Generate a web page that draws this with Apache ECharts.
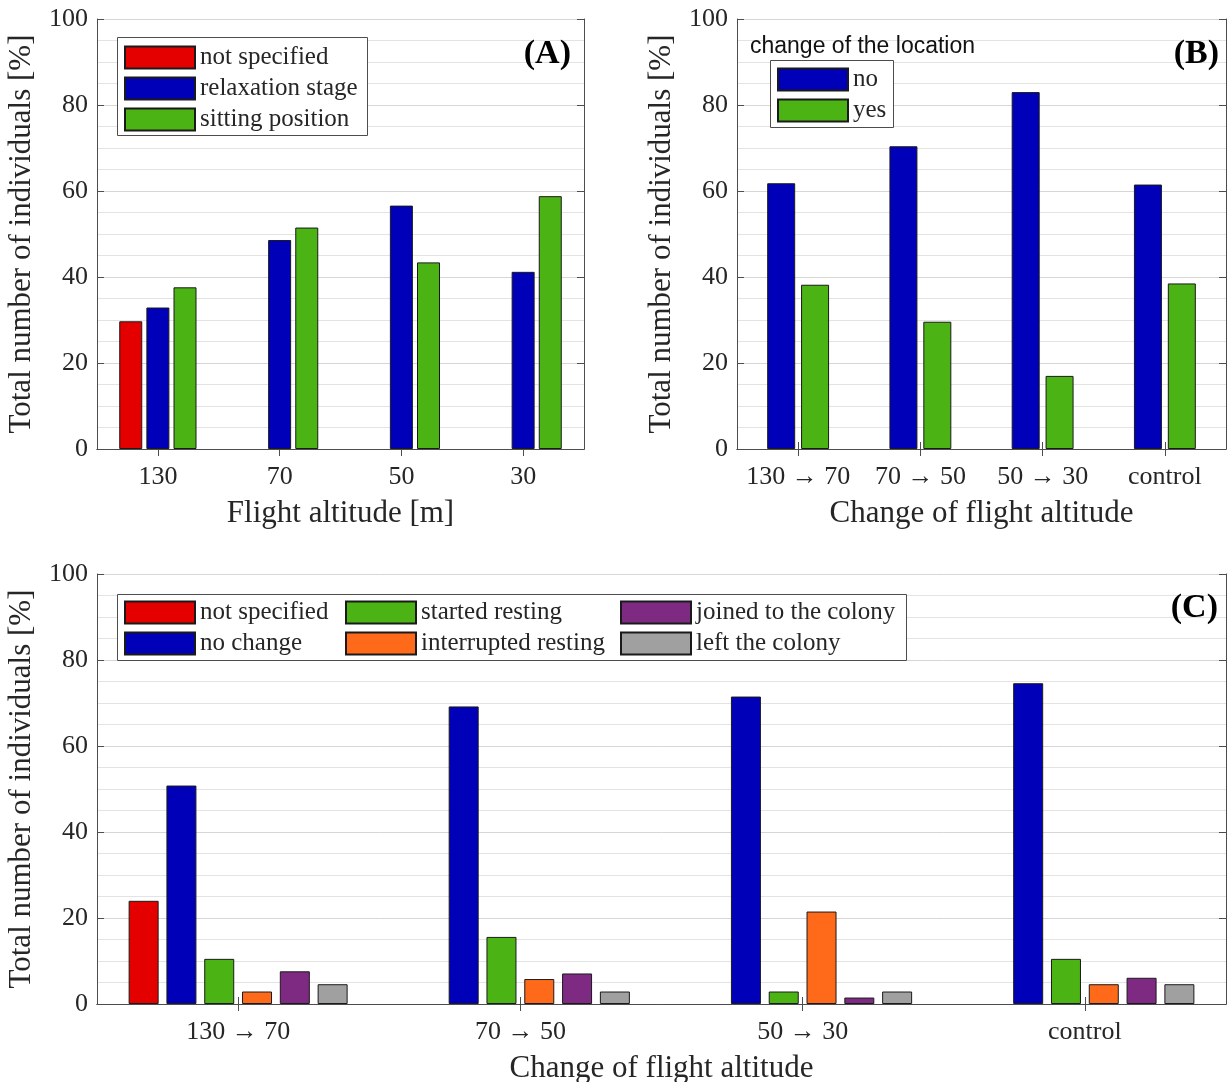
<!DOCTYPE html>
<html>
<head>
<meta charset="utf-8">
<script src="https://cdn.jsdelivr.net/npm/echarts@6/dist/echarts.min.js"></script>
<style>
  html, body { margin: 0; padding: 0; background: #fff; }
  #chart { width: 1231px; height: 1082px; }
</style>
</head>
<body>
<div id="chart"></div>
<script>
// Panel A: behaviour by flight altitude
const altitudes = ['130', '70', '50', '30'];
const notSpecifiedA = [29.7, null, null, null];
const relaxationA = [32.9, 48.6, 56.6, 41.2];
const sittingA = [37.6, 51.5, 43.4, 58.8];

// Panel B: change of the location
const altitudeChanges = ['130 \u2192 70', '70 \u2192 50', '50 \u2192 30', 'control'];
const locationNo = [61.8, 70.4, 83.0, 61.5];
const locationYes = [38.2, 29.6, 17.0, 38.5];

// Panel C: change of behaviour
const notSpecifiedC = [24.0, null, null, null];
const noChangeC = [50.8, 69.2, 71.5, 74.6];
const startedRestingC = [10.5, 15.6, 2.9, 10.5];
const interruptedRestingC = [2.9, 5.8, 21.5, 4.6];
const joinedColonyC = [7.6, 7.1, 1.5, 6.1];
const leftColonyC = [4.6, 2.9, 2.9, 4.6];

const yTicks = [0, 20, 40, 60, 80, 100];

const SERIF = 'Liberation Serif';
const TXT = '#262626';
const FRAME = '#4d4d4d';
const COLORS = {
  red: '#e50000',
  blue: '#0000b8',
  green: '#4bb414',
  orange: '#ff6a1a',
  purple: '#7e2a82',
  gray: '#a0a0a0'
};

// fixed plot rectangles; labels are allowed to sit outside them
const grids = [
  { left: 97, top: 19, width: 487, height: 430, outerBoundsMode: 'none', containLabel: false },
  { left: 737, top: 19, width: 489, height: 430, outerBoundsMode: 'none', containLabel: false },
  { left: 97, top: 574, width: 1129, height: 430, outerBoundsMode: 'none', containLabel: false }
];

function bottomAxis(gi, cats, title) {
  return {
    type: 'category', gridIndex: gi, position: 'bottom', data: cats,
    axisLine: { show: true, lineStyle: { color: FRAME, width: 1 } },
    axisTick: { show: true, inside: true, alignWithLabel: true, length: 7, lineStyle: { color: FRAME } },
    axisLabel: { color: TXT, fontFamily: SERIF, fontSize: 26, margin: 15, interval: 0, hideOverlap: false },
    name: title, nameLocation: 'middle', nameGap: 49,
    nameTextStyle: { color: TXT, fontFamily: SERIF, fontSize: 31 }
  };
}
function topAxis(gi, cats) {
  return {
    type: 'category', gridIndex: gi, position: 'top', data: cats,
    axisLine: { show: true, lineStyle: { color: FRAME, width: 1 } },
    axisTick: { show: true, inside: true, alignWithLabel: true, length: 7, lineStyle: { color: FRAME }, interval: 0 },
    axisLabel: { show: false }
  };
}
function leftAxis(gi) {
  return {
    type: 'value', gridIndex: gi, position: 'left', min: 0, max: 100, interval: 20,
    axisLine: { show: true, lineStyle: { color: FRAME, width: 1 } },
    axisTick: { show: true, inside: true, length: 7, lineStyle: { color: FRAME } },
    axisLabel: {
      color: TXT, fontFamily: SERIF, fontSize: 26, margin: 9,
      formatter: v => (yTicks.indexOf(v) >= 0 ? String(v) : '')
    },
    splitLine: { show: true, lineStyle: { color: '#d6d6d6', width: 1 } },
    minorTick: { show: false, splitNumber: 4 },
    minorSplitLine: { show: true, lineStyle: { color: '#e3e3e3', width: 1 } },
    name: 'Total number of individuals [%]', nameLocation: 'middle', nameGap: 60,
    nameTextStyle: { color: TXT, fontFamily: SERIF, fontSize: 31 }
  };
}
function rightAxis(gi) {
  return {
    type: 'value', gridIndex: gi, position: 'right', min: 0, max: 100, interval: 20,
    axisLine: { show: true, lineStyle: { color: FRAME, width: 1 } },
    axisTick: { show: true, inside: true, length: 7, lineStyle: { color: FRAME } },
    axisLabel: { show: false },
    splitLine: { show: false }
  };
}

function bar(name, data, color, gi, width, gap) {
  return {
    type: 'bar', name: name, data: data,
    xAxisIndex: gi * 2, yAxisIndex: gi * 2,
    barWidth: width, barGap: gap,
    itemStyle: { color: color, borderColor: '#1a1a1a', borderWidth: 1 },
    emphasis: { disabled: true },
    animation: false
  };
}

const legendText = { color: TXT, fontFamily: SERIF, fontSize: 25 };
function legendBox(opts) {
  return Object.assign({
    orient: 'vertical', itemWidth: 70, itemHeight: 22, itemGap: 6,
    icon: 'rect', textStyle: legendText, selectedMode: false,
    backgroundColor: 'transparent', borderWidth: 0, padding: 0
  }, opts);
}

const panelTag = { fontFamily: SERIF, fontWeight: 'bold', fontSize: 34, color: '#000' };

const option = {
  backgroundColor: '#ffffff',
  animation: false,
  grid: grids,
  xAxis: [
    bottomAxis(0, altitudes, 'Flight altitude [m]'), topAxis(0, altitudes),
    bottomAxis(1, altitudeChanges, 'Change of flight altitude'), topAxis(1, altitudeChanges),
    bottomAxis(2, altitudeChanges, 'Change of flight altitude'), topAxis(2, altitudeChanges)
  ],
  yAxis: [
    leftAxis(0), rightAxis(0),
    leftAxis(1), rightAxis(1),
    leftAxis(2), rightAxis(2)
  ],
  title: [
    { text: '(A)', right: 1231 - 571, top: 37, textStyle: panelTag, padding: 0 },
    { text: '(B)', right: 1231 - 1219, top: 37, textStyle: panelTag, padding: 0 },
    { text: '(C)', right: 1231 - 1218, top: 591, textStyle: panelTag, padding: 0 },
    { text: 'change of the location', left: 750, top: 35, textStyle: { fontFamily: 'Liberation Sans', fontWeight: 'normal', fontSize: 23, color: '#111' }, padding: 0 }
  ],
  legend: [
    legendBox({ left: 124, top: 45, data: ['not specified', 'relaxation stage', 'sitting position'] }),
    legendBox({ left: 777, top: 67, data: ['no', 'yes'] }),
    legendBox({ left: 124, top: 600, data: ['not specified', 'no change'] }),
    legendBox({ left: 345, top: 600, data: ['started resting', 'interrupted resting'] }),
    legendBox({ left: 620, top: 600, data: ['joined to the colony', 'left the colony'] })
  ],
  graphic: [
    { type: 'rect', shape: { x: 117.5, y: 37.5, width: 250, height: 98 }, style: { fill: '#fff', stroke: FRAME, lineWidth: 1 }, z: 1 },
    { type: 'rect', shape: { x: 770.5, y: 60.5, width: 123, height: 67 }, style: { fill: '#fff', stroke: FRAME, lineWidth: 1 }, z: 1 },
    { type: 'rect', shape: { x: 117.5, y: 594.5, width: 789, height: 66 }, style: { fill: '#fff', stroke: FRAME, lineWidth: 1 }, z: 1 }
  ],
  series: [
    bar('not specified', notSpecifiedA, COLORS.red, 0, 23, '18%'),
    bar('relaxation stage', relaxationA, COLORS.blue, 0, 23, '18%'),
    bar('sitting position', sittingA, COLORS.green, 0, 23, '18%'),

    bar('no', locationNo, COLORS.blue, 1, 28, '21%'),
    bar('yes', locationYes, COLORS.green, 1, 28, '21%'),

    bar('not specified', notSpecifiedC, COLORS.red, 2, 30, '26%'),
    bar('no change', noChangeC, COLORS.blue, 2, 30, '26%'),
    bar('started resting', startedRestingC, COLORS.green, 2, 30, '26%'),
    bar('interrupted resting', interruptedRestingC, COLORS.orange, 2, 30, '26%'),
    bar('joined to the colony', joinedColonyC, COLORS.purple, 2, 30, '26%'),
    bar('left the colony', leftColonyC, COLORS.gray, 2, 30, '26%')
  ]
};

const chart = echarts.init(document.getElementById('chart'), null, { renderer: 'canvas' });
chart.setOption(option);
</script>
</body>
</html>
